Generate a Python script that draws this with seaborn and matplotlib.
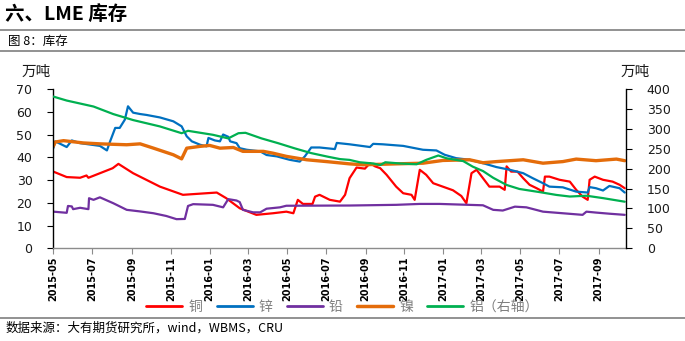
import matplotlib
matplotlib.use("Agg")
import matplotlib.pyplot as plt
import matplotlib.dates as mdates
from matplotlib.lines import Line2D
import pandas as pd
import seaborn as sns

# ---- LME inventories (10k tonnes; aluminium on the right axis) ----
cu_dates = ["2015-05-01", "2015-05-22", "2015-06-12", "2015-06-22", "2015-06-25", "2015-08-02",
            "2015-08-11", "2015-09-03", "2015-10-15", "2015-11-20", "2015-12-27", "2016-01-12",
            "2016-01-27", "2016-02-17", "2016-03-14", "2016-04-09", "2016-04-30", "2016-05-11",
            "2016-05-18", "2016-05-26", "2016-06-10", "2016-06-14", "2016-06-21", "2016-07-07",
            "2016-07-23", "2016-07-31", "2016-08-07", "2016-08-18", "2016-08-31", "2016-09-08",
            "2016-09-16", "2016-09-24", "2016-10-04", "2016-10-19", "2016-10-30", "2016-11-12",
            "2016-11-17", "2016-11-25", "2016-12-05", "2016-12-16", "2017-01-16", "2017-01-29",
            "2017-02-06", "2017-02-14", "2017-02-22", "2017-03-04", "2017-03-14", "2017-03-30",
            "2017-04-07", "2017-04-10", "2017-04-17", "2017-04-27", "2017-05-06", "2017-05-16",
            "2017-05-27", "2017-06-06", "2017-06-09", "2017-06-16", "2017-07-02", "2017-07-18",
            "2017-07-28", "2017-08-07", "2017-08-15", "2017-08-18", "2017-08-26", "2017-09-08",
            "2017-09-23", "2017-10-04", "2017-10-12"]
cu_vals = [33.7, 31.3, 31.0, 32.0, 31.0, 35.2,
           37.1, 33.0, 27.1, 23.5, 24.2, 24.5,
           22.0, 17.6, 14.7, 15.4, 16.1, 15.4,
           21.3, 19.5, 19.5, 22.7, 23.5, 21.3,
           20.5, 23.5, 30.8, 35.5, 35.0, 37.4,
           36.0, 35.2, 32.3, 27.1, 24.2, 23.5,
           21.3, 34.5, 32.3, 28.6, 25.5, 23.0,
           19.8, 33.0, 34.5, 30.8, 27.1, 27.1,
           25.7, 36.0, 33.7, 33.7, 30.8, 27.9,
           26.4, 24.9, 31.5, 31.5, 30.1, 29.3,
           25.7, 22.7, 21.3, 30.1, 31.5, 30.1,
           29.3, 27.9, 26.4]

zn_dates = ["2015-05-01", "2015-05-04", "2015-05-22", "2015-05-30", "2015-06-12", "2015-07-13",
            "2015-07-24", "2015-07-29", "2015-08-06", "2015-08-13", "2015-08-21", "2015-08-26",
            "2015-09-03", "2015-09-14", "2015-09-24", "2015-10-15", "2015-11-05", "2015-11-18",
            "2015-11-26", "2015-12-04", "2015-12-17", "2015-12-27", "2015-12-30", "2016-01-09",
            "2016-01-17", "2016-01-22", "2016-01-30", "2016-02-02", "2016-02-12", "2016-02-17",
            "2016-02-28", "2016-03-20", "2016-03-30", "2016-04-15", "2016-05-05", "2016-05-21",
            "2016-05-29", "2016-06-08", "2016-06-21", "2016-07-15", "2016-07-18", "2016-08-07",
            "2016-09-08", "2016-09-13", "2016-09-28", "2016-10-30", "2016-11-30", "2016-12-21",
            "2017-01-03", "2017-01-21", "2017-02-11", "2017-03-04", "2017-03-25", "2017-04-15",
            "2017-05-06", "2017-05-21", "2017-06-06", "2017-06-16", "2017-07-07", "2017-07-28",
            "2017-08-15", "2017-08-18", "2017-08-28", "2017-09-08", "2017-09-18", "2017-10-04",
            "2017-10-12"]
zn_vals = [44.0, 47.0, 44.5, 47.4, 46.2, 45.0,
           43.0, 47.0, 52.9, 52.9, 56.5, 62.4,
           59.6, 59.0, 58.6, 57.5, 55.8, 53.6,
           49.2, 47.0, 45.5, 44.8, 48.5, 47.4,
           47.0, 50.0, 49.0, 47.0, 46.2, 44.0,
           43.3, 42.6, 41.0, 40.4, 38.9, 38.1,
           40.4, 44.3, 44.3, 43.6, 46.3, 45.7,
           44.5, 45.9, 45.7, 45.0, 43.3, 43.0,
           41.1, 39.6, 38.9, 37.4, 35.7, 34.5,
           33.0, 30.8, 28.6, 27.1, 26.8, 24.9,
           24.5, 26.9, 26.4, 25.4, 27.4, 26.4,
           24.5]

pb_dates = ["2015-05-01", "2015-05-22", "2015-05-24", "2015-05-30", "2015-06-01", "2015-06-12",
            "2015-06-25", "2015-06-26", "2015-07-03", "2015-07-13", "2015-08-03", "2015-08-24",
            "2015-09-14", "2015-10-05", "2015-10-25", "2015-11-10", "2015-11-23", "2015-11-28",
            "2015-12-06", "2016-01-06", "2016-01-22", "2016-01-30", "2016-02-12", "2016-02-17",
            "2016-02-22", "2016-03-09", "2016-03-20", "2016-03-30", "2016-04-20", "2016-04-30",
            "2016-08-07", "2016-10-19", "2016-11-25", "2016-12-26", "2017-03-04", "2017-03-20",
            "2017-04-04", "2017-04-23", "2017-05-11", "2017-06-06", "2017-07-07", "2017-08-07",
            "2017-08-13", "2017-08-28", "2017-09-18", "2017-10-12"]
pb_vals = [16.1, 15.6, 18.6, 18.4, 17.2, 17.8,
           17.2, 22.0, 21.3, 22.4, 19.8, 16.9,
           16.2, 15.4, 14.2, 12.8, 12.9, 18.6,
           19.4, 19.1, 18.0, 21.6, 21.0, 20.3,
           16.9, 15.8, 15.8, 17.4, 18.0, 18.7,
           18.8, 19.1, 19.5, 19.5, 18.9, 16.9,
           16.6, 18.3, 18.0, 16.1, 15.4, 14.7,
           16.1, 15.7, 15.2, 14.7]

ni_dates = ["2015-05-01", "2015-05-04", "2015-05-17", "2015-06-17", "2015-07-13", "2015-08-24",
            "2015-09-14", "2015-10-05", "2015-11-05", "2015-11-18", "2015-11-26", "2015-12-17",
            "2016-01-01", "2016-01-17", "2016-02-07", "2016-02-22", "2016-03-25", "2016-04-09",
            "2016-04-30", "2016-06-01", "2016-07-02", "2016-08-07", "2016-08-28", "2016-10-19",
            "2016-11-30", "2016-12-31", "2017-02-11", "2017-03-04", "2017-03-25", "2017-05-06",
            "2017-06-06", "2017-07-07", "2017-07-28", "2017-08-28", "2017-09-29", "2017-10-12"]
ni_vals = [44.8, 46.7, 47.3, 46.3, 45.9, 45.5,
           45.9, 44.0, 41.1, 39.3, 44.0, 44.8,
           45.2, 44.0, 44.3, 42.6, 42.6, 41.8,
           40.4, 38.9, 38.1, 37.1, 36.7, 37.1,
           37.4, 38.6, 38.9, 37.6, 38.1, 38.9,
           37.4, 38.1, 39.2, 38.5, 39.2, 38.5]

al_dates = ["2015-05-01", "2015-05-22", "2015-07-03", "2015-08-03", "2015-09-03", "2015-10-15",
            "2015-11-18", "2015-11-28", "2016-01-06", "2016-01-30", "2016-02-15", "2016-02-26",
            "2016-03-22", "2016-04-17", "2016-05-13", "2016-06-08", "2016-07-04", "2016-07-23",
            "2016-08-07", "2016-08-23", "2016-09-13", "2016-09-24", "2016-10-02", "2016-10-25",
            "2016-11-20", "2016-12-05", "2016-12-24", "2017-01-06", "2017-02-01", "2017-02-16",
            "2017-03-04", "2017-03-20", "2017-04-10", "2017-04-30", "2017-06-01", "2017-06-27",
            "2017-07-18", "2017-08-13", "2017-09-08", "2017-10-12"]
al_vals = [381, 371, 356, 337, 322, 306,
           289, 295, 285, 276, 289, 290,
           276, 264, 251, 239, 230, 224,
           222, 216, 213, 209, 216, 213,
           211, 222, 233, 226, 219, 205,
           194, 177, 159, 149, 141, 134,
           130, 132, 126, 117]

labels = ["铜", "锌", "铅", "镍", "铝（右轴）"]
colors = ["#FF0000", "#0070C0", "#7030A0", "#E46C0A", "#00B050"]

sns.set_theme(style="white")
plt.rcParams["font.family"] = ["Noto Sans CJK SC", "DejaVu Sans"]

fig = plt.figure(figsize=(6.85, 3.41), dpi=100)
ax = fig.add_axes([53.3 / 685, 1 - 248.3 / 341, (626 - 53.3) / 685, (248.3 - 89) / 341])
ax2 = ax.twinx()

left_series = [(cu_dates, cu_vals, 1.6), (zn_dates, zn_vals, 1.6),
               (pb_dates, pb_vals, 1.6), (ni_dates, ni_vals, 2.4)]
for (d, v, lw), lab, col in zip(left_series, labels[:4], colors[:4]):
    df = pd.DataFrame({"date": pd.to_datetime(d), "value": v})
    sns.lineplot(data=df, x="date", y="value", ax=ax, color=col, lw=lw,
                 label=lab, legend=False, estimator=None, sort=False)

df_al = pd.DataFrame({"date": pd.to_datetime(al_dates), "value": al_vals})
sns.lineplot(data=df_al, x="date", y="value", ax=ax2, color=colors[4], lw=1.6,
             label=labels[4], legend=False, estimator=None, sort=False)

# axes limits and ticks
ax.set_xlim(pd.Timestamp("2015-05-01"), pd.Timestamp("2017-10-14"))
ax.set_ylim(0, 70)
ax2.set_ylim(0, 400)
ax.set_yticks(range(0, 71, 10))
ax2.set_yticks(range(0, 401, 50))
ax.xaxis.set_major_locator(mdates.MonthLocator(bymonth=[1, 3, 5, 7, 9, 11]))
ax.xaxis.set_major_formatter(mdates.DateFormatter("%Y-%m"))
for a in (ax, ax2):
    a.set_xlabel("")
    a.set_ylabel("")
    a.grid(False)
    a.spines["top"].set_visible(False)

ax.spines["left"].set_color("#000000")
ax.spines["right"].set_visible(False)
ax.spines["bottom"].set_color("#8c8c8c")
ax2.spines["right"].set_color("#000000")
ax2.spines["left"].set_visible(False)
ax2.spines["bottom"].set_visible(False)
for s in ("left", "bottom"):
    ax.spines[s].set_linewidth(1.0)
ax2.spines["right"].set_linewidth(1.0)

ax.tick_params(axis="y", left=True, direction="out", length=4, width=0.8,
               color="#000000", pad=11, labelsize=9, labelcolor="#1a1a1a")
ax2.tick_params(axis="y", right=True, direction="out", length=4, width=0.8,
                color="#000000", pad=11, labelsize=9, labelcolor="#1a1a1a")
ax.tick_params(axis="x", bottom=True, direction="out", length=4, width=0.8,
               color="#8c8c8c", pad=2, labelsize=7, labelcolor="#000000")
for t in ax.get_yticklabels() + ax2.get_yticklabels():
    t.set_family("DejaVu Sans")
for t in ax.get_xticklabels():
    t.set_family("DejaVu Sans")
    t.set_fontweight("bold")
    t.set_rotation(90)
    t.set_ha("center")
    t.set_va("top")

# unit captions above the axes
fig.text(22 / 685, 1 - 72 / 341, "万吨", fontsize=10.5, color="#1a1a1a", va="center", ha="left")
fig.text(621 / 685, 1 - 72 / 341, "万吨", fontsize=10.5, color="#1a1a1a", va="center", ha="left")

# legend below the chart
handles = [Line2D([], [], color=c, lw=2.5 if i == 3 else 2) for i, c in enumerate(colors)]
fig.legend(handles, labels, loc="center", bbox_to_anchor=(0.5, 1 - 306.5 / 341), ncol=5,
           frameon=False, fontsize=10, handlelength=2.6, handletextpad=0.45,
           columnspacing=1.0, labelcolor="#808080", borderaxespad=0, borderpad=0)

# page header and footer
fig.text(5 / 685, 1 - 14 / 341, "六、LME 库存", fontsize=14, fontweight="bold",
         color="#000000", va="center", ha="left")
fig.text(8 / 685, 1 - 41 / 341, "图 8：库存", fontsize=9, color="#000000",
         va="center", ha="left")
fig.text(6 / 685, 1 - 328 / 341, "数据来源：大有期货研究所，wind，WBMS，CRU", fontsize=9,
         style="italic", color="#000000", va="center", ha="left")
for yy in (29.5, 50.5, 317.5):
    fig.add_artist(Line2D([0, 1], [1 - yy / 341, 1 - yy / 341], transform=fig.transFigure,
                          color="#7f7f7f", lw=1.2))

fig.savefig("out.png", dpi=100)
